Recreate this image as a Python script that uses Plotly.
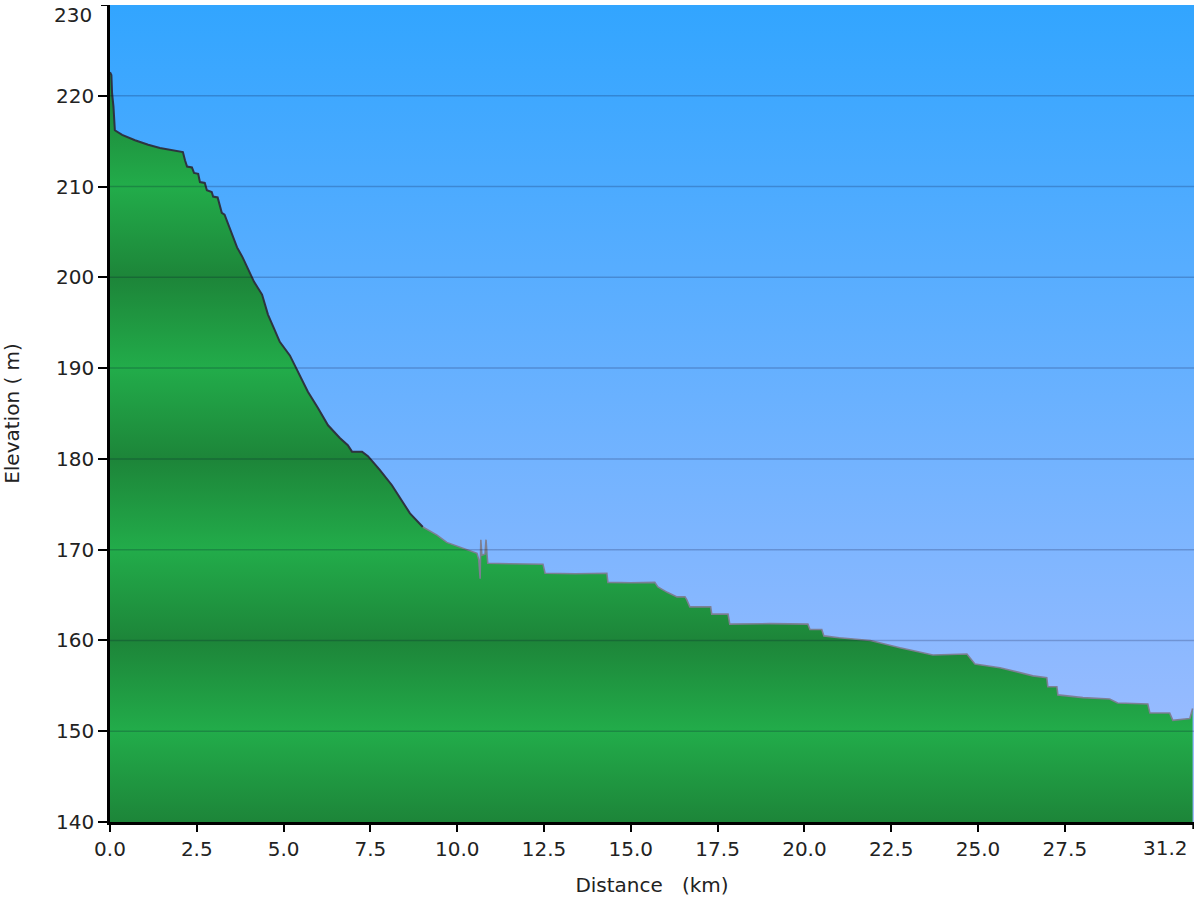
import plotly.graph_objects as go

# ---- data ----
dist_km = [0.00, 0.04, 0.06, 0.10, 0.14, 0.35, 0.72, 1.10, 1.44, 1.80, 2.10, 2.16, 2.22, 2.36, 2.42,
           2.54, 2.59, 2.73, 2.79, 2.93, 2.97, 3.10, 3.22, 3.30, 3.46, 3.66, 3.82, 3.97, 4.15, 4.38,
           4.55, 4.72, 4.89, 5.18, 5.47, 5.70, 5.99, 6.28, 6.62, 6.85, 6.97, 7.26, 7.43, 7.77, 8.12,
           8.35, 8.64, 9.01, 9.42, 9.70, 10.28, 10.57, 10.62, 10.66, 10.68, 10.71, 10.80, 10.83, 10.86,
           10.88, 11.50, 12.47, 12.53, 13.40, 14.31, 14.34, 15.00, 15.69, 15.78, 16.05, 16.33, 16.56,
           16.61, 16.70, 17.30, 17.33, 17.80, 17.85, 19.00, 20.10, 20.16, 20.50, 20.56, 21.00, 21.90,
           22.75, 23.70, 24.68, 24.91, 25.63, 26.58, 26.98, 27.01, 27.27, 27.30, 28.02, 28.79, 29.02,
           29.89, 29.95, 30.52, 30.61, 31.10, 31.18]
elev_m = [222.6, 222.3, 220.3, 218.8, 216.2, 215.7, 215.1, 214.6, 214.25, 214.0, 213.8, 212.9, 212.2, 212.1, 211.5,
          211.4, 210.5, 210.4, 209.6, 209.4, 208.9, 208.8, 207.1, 206.9, 205.2, 203.3, 202.2, 201.0, 199.5, 198.1,
          195.9, 194.4, 192.9, 191.4, 189.2, 187.4, 185.6, 183.7, 182.3, 181.5, 180.8, 180.8, 180.3, 178.8, 177.1,
          175.7, 174.0, 172.5, 171.6, 170.8, 170.0, 169.6, 168.9, 166.8, 171.1, 169.4, 169.5, 171.1, 169.4,
          168.5, 168.45, 168.4, 167.4, 167.35, 167.4, 166.4, 166.35, 166.4, 165.9, 165.3, 164.8, 164.8,
          164.5, 163.7, 163.7, 162.9, 162.9, 161.8, 161.85, 161.8, 161.2, 161.2, 160.5, 160.3, 160.0,
          159.2, 158.4, 158.5, 157.4, 157.0, 156.1, 155.9, 154.9, 154.9, 154.0, 153.7, 153.55, 153.1,
          153.0, 152.0, 152.0, 151.2, 151.4, 152.5]

x_tick_vals = [0.0, 2.5, 5.0, 7.5, 10.0, 12.5, 15.0, 17.5, 20.0, 22.5, 25.0, 27.5, 31.2]
x_tick_text = ["0.0", "2.5", "5.0", "7.5", "10.0", "12.5", "15.0", "17.5", "20.0", "22.5", "25.0", "27.5", "31.2"]
y_tick_vals = [140, 150, 160, 170, 180, 190, 200, 210, 220, 230]
y_tick_text = ["140", "150", "160", "170", "180", "190", "200", "210", "220", "230"]
grid_vals = [150, 160, 170, 180, 190, 200, 210, 220]

x_range = [0, 31.22]
y_range = [140, 230]
dark_split_km = 9.0

# ---- styles ----
FONT = "Verdana, DejaVu Sans, sans-serif"
sky_bottom = "rgb(165,190,255)"
sky_top = "rgb(50,165,255)"
green_dark = "rgb(29,133,57)"
green_bright = "rgb(34,172,74)"

# banded green colorscale (alternating every 10 m)
band_scale = []
for i, v in enumerate(y_tick_vals):
    pos = (v - y_range[0]) / (y_range[1] - y_range[0])
    band_scale.append([pos, green_dark if i % 2 == 0 else green_bright])

fig = go.Figure()

# sky background
fig.add_trace(go.Scatter(
    x=[x_range[0], x_range[1], x_range[1], x_range[0], x_range[0]],
    y=[y_range[0], y_range[0], y_range[1], y_range[1], y_range[0]],
    mode="lines", line=dict(width=0), fill="toself",
    fillgradient=dict(type="vertical", colorscale=[[0, sky_bottom], [1, sky_top]],
                      start=y_range[0], stop=y_range[1]),
    hoverinfo="skip", showlegend=False,
))

# terrain fill
fig.add_trace(go.Scatter(
    x=dist_km, y=elev_m, mode="lines", line=dict(width=0),
    fill="tozeroy",
    fillgradient=dict(type="vertical", colorscale=band_scale, start=y_range[0], stop=y_range[1]),
    showlegend=False, hoverinfo="skip",
))

# outline: dark in the first part, grey afterwards
idx = next(i for i, d in enumerate(dist_km) if d >= dark_split_km)
fig.add_trace(go.Scatter(
    x=dist_km[:idx + 1], y=elev_m[:idx + 1], mode="lines",
    line=dict(color="rgba(45,45,60,0.95)", width=2), showlegend=False,
))
fig.add_trace(go.Scatter(
    x=dist_km[idx:], y=elev_m[idx:], mode="lines",
    line=dict(color="rgba(125,125,145,0.95)", width=1.6), showlegend=False,
))

shapes = [dict(type="line", xref="paper", x0=0, x1=1, yref="y", y0=g, y1=g, layer="above",
               line=dict(color="rgba(0,0,40,0.2)", width=1.5)) for g in grid_vals]

# the two edge tick labels are drawn as annotations, nudged inside the page like the reference
annotations = [
    dict(x=x_tick_vals[-1], xref="x", y=0, yref="paper", text=x_tick_text[-1],
         xanchor="right", yanchor="top", xshift=-3, yshift=-12, showarrow=False,
         font=dict(family=FONT, size=20, color="#222")),
    dict(x=0, xref="paper", y=y_tick_vals[-1], yref="y", text=y_tick_text[-1],
         xanchor="right", yanchor="top", xshift=-16, yshift=4, showarrow=False,
         font=dict(family=FONT, size=20, color="#222")),
]

fig.update_layout(
    width=1200, height=900,
    margin=dict(l=110, r=6, t=5, b=78),
    paper_bgcolor="white", plot_bgcolor="white",
    font=dict(family=FONT, size=20, color="#222"),
    shapes=shapes, annotations=annotations,
    showlegend=False,
)
fig.update_xaxes(
    range=x_range, tickvals=x_tick_vals[:-1], ticktext=x_tick_text[:-1],
    showgrid=False, zeroline=False, showline=True, linecolor="black", linewidth=2.5,
    ticks="outside", ticklen=7, tickwidth=2, tickcolor="black",
    title=dict(text="Distance   (km)", font=dict(size=20), standoff=19),
    layer="above traces",
)
fig.update_yaxes(
    range=y_range, tickvals=y_tick_vals[:-1], ticktext=y_tick_text[:-1],
    showgrid=False, zeroline=False, showline=True, linecolor="black", linewidth=2.5,
    ticks="outside", ticklen=9, tickwidth=2, tickcolor="black",
    title=dict(text="Elevation ( m)", font=dict(size=20), standoff=32),
    layer="above traces",
)

# edge tick marks for the annotated labels
fig.add_shape(type="line", xref="x", yref="paper", x0=x_tick_vals[-1], x1=x_tick_vals[-1],
              y0=0, y1=-0.0085, line=dict(color="black", width=2))
fig.add_shape(type="line", xref="paper", yref="y", x0=0, x1=-0.0083,
              y0=y_tick_vals[-1], y1=y_tick_vals[-1], line=dict(color="black", width=2))

fig.write_html("out.html", post_script="document.body.style.margin='0';",
               config={"displayModeBar": False})
